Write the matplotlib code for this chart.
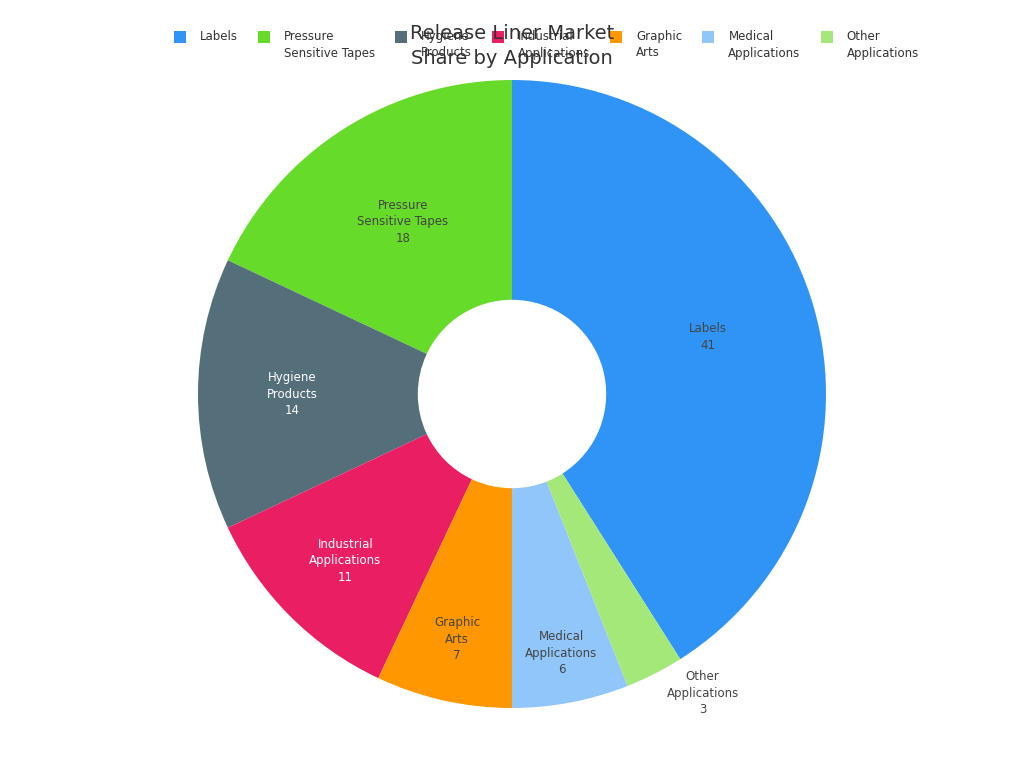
import matplotlib
matplotlib.use('Agg')
import matplotlib.pyplot as plt
from matplotlib.patches import Rectangle
import numpy as np

categories = ['Labels', 'Pressure\nSensitive Tapes', 'Hygiene\nProducts', 'Industrial\nApplications',
              'Graphic\nArts', 'Medical\nApplications', 'Other\nApplications']
shares = [41, 18, 14, 11, 7, 6, 3]
colors = ['#3094F7', '#66DB2A', '#546E7A', '#E91E63', '#FF9800', '#90C6F9', '#A5E87A']
label_colors = ['#444444', '#444444', 'white', 'white', '#444444', '#444444', '#444444']
# how far out each slice label sits (fraction of outer radius)
label_dist = [0.65, 0.65, 0.70, 0.75, 0.80, 0.84, 1.13]
label_shift = [0, 0, 0, 0, 0, 0, 5.5]  # degrees

W, H = 1024, 768
fig = plt.figure(figsize=(W / 100, H / 100), dpi=100)

cx, cy, R = 512, 394, 314
ax = fig.add_axes([(cx - R) / W, (H - cy - R) / H, 2 * R / W, 2 * R / H])

total = sum(shares)
start = 90 - 360 * shares[0] / total
wedges, _ = ax.pie(shares, colors=colors, startangle=start, counterclock=True, radius=1,
                   wedgeprops=dict(width=0.70, edgecolor='none'))
ax.set_xlim(-1, 1)
ax.set_ylim(-1, 1)
ax.axis('off')

for w, cat, val, lc, d, sh in zip(wedges, categories, shares, label_colors, label_dist, label_shift):
    ang = np.deg2rad((w.theta1 + w.theta2) / 2 + sh)
    ax.text(d * np.cos(ang), d * np.sin(ang), f'{cat}\n{val}', ha='center', va='center',
            fontsize=8.5, color=lc, linespacing=1.35)

# legend, drawn by hand so markers line up with first text line
fig.canvas.draw()
renderer = fig.canvas.get_renderer()
x = 174
y_top = 37
for cat, col in zip(categories, colors):
    fig.patches.append(Rectangle(((x) / W, 1 - (y_top + 6) / H), 12 / W, 12 / H,
                                 transform=fig.transFigure, facecolor=col, edgecolor='none'))
    t = fig.text((x + 26) / W, 1 - (y_top - 7) / H, cat, fontsize=8.5, color='#333333',
                 ha='left', va='top', linespacing=1.35)
    bb = t.get_window_extent(renderer)
    x = x + 26 + bb.width + 20

fig.text(0.5, 1 - 46 / H, 'Release Liner Market\nShare by Application', ha='center', va='center',
         fontsize=14, color='#333333', linespacing=1.45)

fig.savefig('out.png', dpi=100, facecolor='white')
